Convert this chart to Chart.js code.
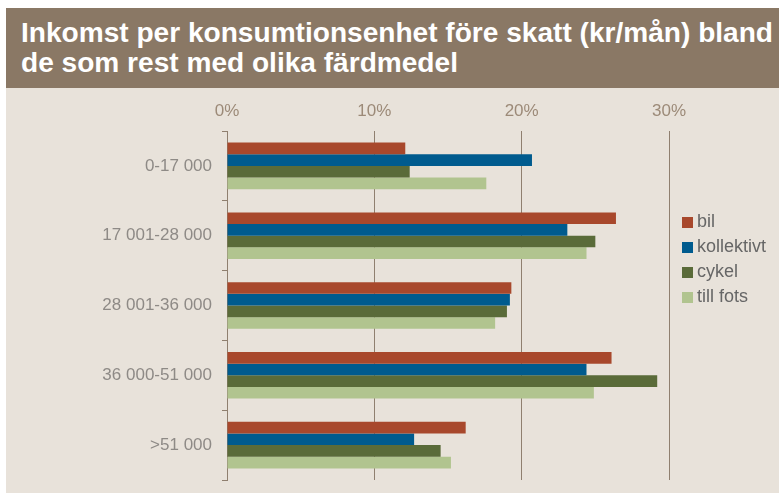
<!DOCTYPE html>
<html>
<head>
<meta charset="utf-8">
<script src="https://cdn.jsdelivr.net/npm/chart.js@4"></script>
<style>
  body { margin: 0; background: #ffffff; width: 779px; height: 493px; overflow: hidden; position: relative; font-family: "Liberation Sans", Arial, sans-serif; }
  #band { position: absolute; left: 6px; top: 8px; width: 773px; height: 80px; background: #8a7865; }
  #title { position: absolute; left: 15px; top: 10px; color: #ffffff; font-weight: bold; font-size: 28px; line-height: 30px; white-space: nowrap; transform-origin: 0 0; }
  #panel { position: absolute; left: 6px; top: 88px; width: 773px; height: 405px; background: #e8e2da; }
  #incomeChart { position: absolute; left: 0; top: 0; }
  #legend { position: absolute; left: 676px; top: 121px; font-size: 18px; color: #666666; }
  #legend div { height: 25px; line-height: 25px; white-space: nowrap; }
  #legend span { display: inline-block; width: 11px; height: 11px; margin-right: 4px; vertical-align: -1px; }
</style>
</head>
<body>
<div id="band">
  <div id="title">Inkomst per konsumtionsenhet före skatt (kr/mån) bland<br>de som rest med olika färdmedel</div>
</div>
<div id="panel">
  <canvas id="incomeChart" width="773" height="405"></canvas>
  <div id="legend"></div>
</div>
<script>
// Income groups (kr/month) and share of travellers per mode, in percent
const categories = ['0-17 000', '17 001-28 000', '28 001-36 000', '36 000-51 000', '>51 000'];
const seriesNames = ['bil', 'kollektivt', 'cykel', 'till fots'];
const bil = [12.1, 26.4, 19.3, 26.1, 16.2];
const kollektivt = [20.7, 23.1, 19.2, 24.4, 12.7];
const cykel = [12.4, 25.0, 19.0, 29.2, 14.5];
const tillFots = [17.6, 24.4, 18.2, 24.9, 15.2];
const xTicks = [0, 10, 20, 30];

const colors = ['#a8482c', '#005b8e', '#5a6b39', '#b1c48f'];
const seriesValues = [bil, kollektivt, cykel, tillFots];

// Squeeze the heading so the first line spans the band like in the original
const title = document.getElementById('title');
const measure = document.createElement('canvas').getContext('2d');
measure.font = 'bold 28px "Liberation Sans"';
const lineWidth = measure.measureText('Inkomst per konsumtionsenhet före skatt (kr/mån) bland').width;
title.style.transform = 'scaleX(' + (752 / lineWidth) + ')';

// Legend
const legend = document.getElementById('legend');
seriesNames.forEach((name, i) => {
    const row = document.createElement('div');
    row.innerHTML = '<span style="background:' + colors[i] + '"></span>' + name;
    legend.appendChild(row);
});

Chart.defaults.font.family = '"Liberation Sans", Arial, sans-serif';
Chart.defaults.animation = false;

const ctx = document.getElementById('incomeChart').getContext('2d');
new Chart(ctx, {
    type: 'bar',
    data: {
        labels: categories,
        datasets: seriesNames.map((name, i) => ({
            label: name,
            data: seriesValues[i],
            backgroundColor: colors[i],
            borderWidth: 0,
            categoryPercentage: 0.667,
            barPercentage: 1.0
        }))
    },
    options: {
        indexAxis: 'y',
        responsive: false,
        layout: { padding: { top: 0, right: 110, bottom: 13, left: 0 } },
        plugins: {
            legend: { display: false },
            tooltip: { enabled: false }
        },
        scales: {
            x: {
                position: 'top',
                min: 0,
                max: 30,
                afterBuildTicks: (axis) => { axis.ticks = xTicks.map(v => ({ value: v })); },
                afterFit: (axis) => { axis.height = 43; },
                ticks: {
                    callback: (v) => v + '%',
                    color: '#9c8a78',
                    font: { size: 17 },
                    padding: 9
                },
                grid: { color: '#8f7f6f', drawTicks: false, lineWidth: 1 },
                border: { display: false }
            },
            y: {
                afterFit: (axis) => {
                    axis.width = 221;
                    // labels sit mid-category, no extra room needed above/below
                    axis.paddingTop = 0;
                    axis.paddingBottom = 0;
                },
                ticks: { color: '#8e8a86', font: { size: 17 }, padding: 10 },
                grid: { drawOnChartArea: false, drawTicks: true, tickLength: 5, color: '#8f7f6f', offset: true },
                border: { display: true, color: '#8f7f6f' }
            }
        }
    }
});
</script>
</body>
</html>
